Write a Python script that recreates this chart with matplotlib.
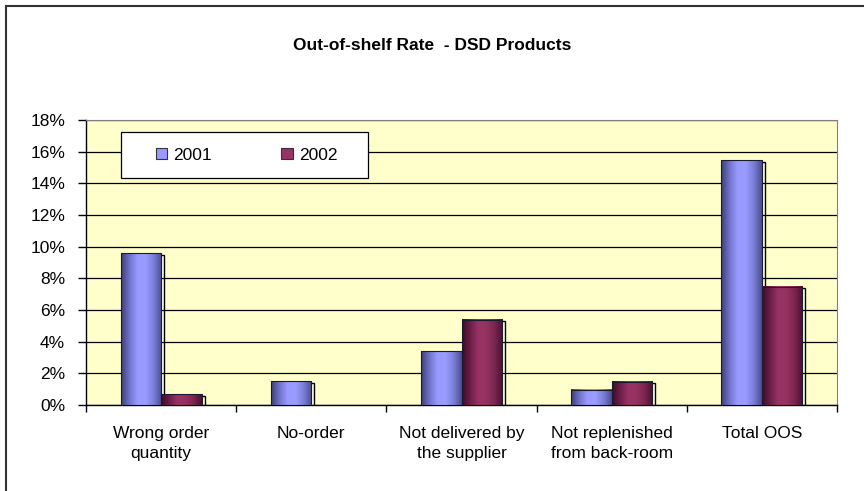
import matplotlib.pyplot as plt
import matplotlib.patches as mpatches
import matplotlib.transforms as mtransforms
from matplotlib.lines import Line2D
from matplotlib.colors import LinearSegmentedColormap
import numpy as np

plt.rcParams['font.family'] = ['Liberation Sans', 'DejaVu Sans']

categories = ['Wrong order\nquantity', 'No-order', 'Not delivered by\nthe supplier',
              'Not replenished\nfrom back-room', 'Total OOS']
years = ['2001', '2002']
rate_2001 = [9.6, 1.5, 3.4, 0.95, 15.45]
rate_2002 = [0.67, 0.0, 5.37, 1.47, 7.47]
yticks = [0, 2, 4, 6, 8, 10, 12, 14, 16, 18]

fig = plt.figure(figsize=(8.64, 4.91), dpi=100)
ax = fig.add_axes([86 / 864, 86 / 491, 751 / 864, 285 / 491])
ax.set_facecolor('#ffffcc')

# gradient colormaps that imitate the excel cylinder shading
blue_cm = LinearSegmentedColormap.from_list(
    'b', ['#3c3f7a', '#7073c8', '#9999ff', '#9a9cff', '#7c7fd8', '#4c4f92'])
red_cm = LinearSegmentedColormap.from_list(
    'r', ['#3d0c26', '#6e1f48', '#993366', '#96325f', '#7a2650', '#4a1130'])
grad = np.linspace(0, 1, 64).reshape(1, -1)

x = np.arange(len(categories))
w = 0.27
shadow = mtransforms.offset_copy(ax.transData, fig=fig, x=3, y=-1.5, units='dots')

groups = [(rate_2001, blue_cm, '#9999ff', -w / 2), (rate_2002, red_cm, '#993366', w / 2)]
for vals, cm, col, off in groups:
    bars = ax.bar(x + off, vals, w, color=col, edgecolor='none', zorder=3)
    for b in bars:
        h = b.get_height()
        if h <= 0:
            continue
        # hollow outline slightly offset = the shadow frame
        sh = mpatches.Rectangle((b.get_x(), 0), b.get_width(), h, transform=shadow,
                                facecolor='none', edgecolor='black', lw=1.0, zorder=2.5)
        ax.add_patch(sh)
        ax.imshow(grad, cmap=cm, aspect='auto', zorder=3.2,
                  extent=(b.get_x(), b.get_x() + b.get_width(), 0, h))
        ax.add_patch(mpatches.Rectangle((b.get_x(), 0), b.get_width(), h,
                                        facecolor='none', edgecolor='#1a1a30', lw=0.8, zorder=3.4))

ax.set_xlim(-0.5, len(categories) - 0.5)
ax.set_ylim(0, 18)
ax.set_yticks(yticks)
ax.set_yticklabels([f'{v}%' for v in yticks])
ax.yaxis.grid(True, color='black', lw=0.9, zorder=1)
ax.set_axisbelow(True)

ax.set_xticks(np.arange(len(categories) + 1) - 0.5)
ax.set_xticklabels([])
ax.set_xticks(x, minor=True)
ax.set_xticklabels(categories, minor=True, fontsize=12.5, linespacing=1.45)
ax.tick_params(axis='x', which='minor', length=0, pad=15)
ax.tick_params(axis='x', which='major', length=5, direction='out', width=1)
ax.tick_params(axis='y', length=6, direction='out', width=1, pad=9, labelsize=12.5)

for s in ['top', 'right']:
    ax.spines[s].set_color('#808080')
for s in ['left', 'bottom']:
    ax.spines[s].set_color('black')
    ax.spines[s].set_linewidth(1.0)

# legend box drawn by hand so the inner padding can be wider than tall
ax.add_patch(mpatches.Rectangle((35 / 751, (405 - 178) / 285), 247 / 751, 46 / 285,
                                transform=ax.transAxes, facecolor='white',
                                edgecolor='black', lw=0.9, zorder=5))
handles = [mpatches.Patch(facecolor='#9999ff', edgecolor='#333333', lw=0.8),
           mpatches.Patch(facecolor='#993366', edgecolor='#333333', lw=0.8)]
leg = ax.legend(handles, years, ncol=2, loc='center left',
                bbox_to_anchor=(70 / 751, (405 - 155) / 285), fontsize=12.5,
                frameon=False, handlelength=0.65, handleheight=0.65, handletextpad=0.35,
                columnspacing=4.0, borderpad=0, borderaxespad=0)
leg.set_zorder(6)

fig.text(432 / 864, 1 - 45 / 491, 'Out-of-shelf Rate  - DSD Products', ha='center',
         va='center', fontsize=12.5, fontweight='bold')

# outer chart border, only the top and left parts are visible
fig.add_artist(Line2D([6 / 864, 6 / 864], [0, 1 - 6 / 491], color='#333333', lw=1.5))
fig.add_artist(Line2D([6 / 864, 1], [1 - 6 / 491, 1 - 6 / 491], color='#333333', lw=1.5))

fig.savefig('out.png', dpi=100)
